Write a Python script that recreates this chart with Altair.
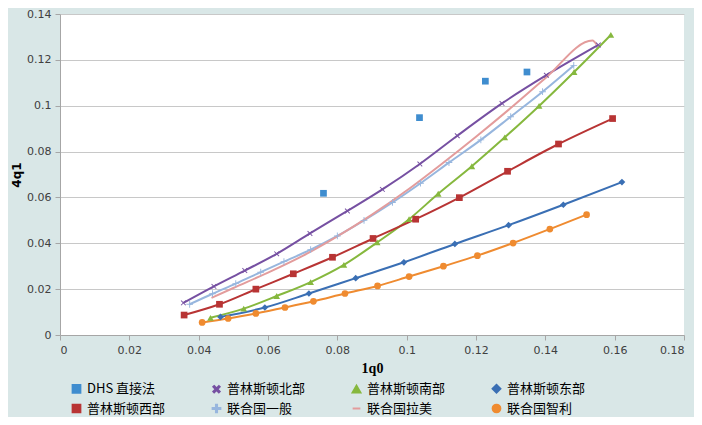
import altair as alt
import pandas as pd

# 系列名称（图例顺序）
series_names = ["DHS 直接法", "普林斯顿北部", "普林斯顿南部", "普林斯顿东部",
                "普林斯顿西部", "联合国一般", "联合国拉美", "联合国智利"]
series_colors = ["#3f8dcf", "#7650a2", "#86b83e", "#3a6fb4",
                 "#b83434", "#97b6de", "#e39c9c", "#ef8b30"]

# DHS 直接法 (只有点)
dhs_x = [0.0760, 0.1037, 0.1227, 0.1347]
dhs_y = [0.0618, 0.0948, 0.1107, 0.1147]

# 普林斯顿北部
north_x = [0.0356, 0.0444, 0.0533, 0.0625, 0.0721, 0.0829, 0.0930, 0.1038, 0.1146, 0.1275, 0.1403, 0.1553]
north_y = [0.0140, 0.0212, 0.0281, 0.0354, 0.0443, 0.0541, 0.0635, 0.0746, 0.0869, 0.1010, 0.1133, 0.1265]

# 普林斯顿南部
south_x = [0.0434, 0.0530, 0.0625, 0.0723, 0.0819, 0.0915, 0.1007, 0.1091, 0.1188, 0.1283, 0.1382, 0.1483, 0.1589]
south_y = [0.0075, 0.0115, 0.0170, 0.0231, 0.0306, 0.0404, 0.0505, 0.0616, 0.0736, 0.0862, 0.0999, 0.1147, 0.1309]

# 普林斯顿东部
east_x = [0.0463, 0.0591, 0.0718, 0.0853, 0.0992, 0.1139, 0.1294, 0.1452, 0.1621]
east_y = [0.0079, 0.0120, 0.0181, 0.0248, 0.0317, 0.0397, 0.0479, 0.0568, 0.0667]

# 普林斯顿西部
west_x = [0.0358, 0.0460, 0.0565, 0.0673, 0.0786, 0.0903, 0.1026, 0.1152, 0.1291, 0.1438, 0.1594]
west_y = [0.0087, 0.0134, 0.0200, 0.0267, 0.0339, 0.0421, 0.0505, 0.0599, 0.0714, 0.0833, 0.0944]

# 联合国一般
un_x = [0.0374, 0.0440, 0.0507, 0.0579, 0.0646, 0.0723, 0.0800, 0.0877, 0.0959, 0.1040, 0.1122, 0.1214, 0.1300, 0.1392, 0.1482]
un_y = [0.0134, 0.0180, 0.0224, 0.0274, 0.0320, 0.0372, 0.0432, 0.0500, 0.0578, 0.0662, 0.0752, 0.0851, 0.0952, 0.1061, 0.1176]

# 联合国拉美 (只有线)
latam_x = [0.0437, 0.0500, 0.0600, 0.0700, 0.0800, 0.0900, 0.1000, 0.1100, 0.1200, 0.1300, 0.1400, 0.1536, 0.1548]
latam_y = [0.0162, 0.0205, 0.0272, 0.0345, 0.0430, 0.0525, 0.0630, 0.0745, 0.0865, 0.0990, 0.1120, 0.1284, 0.1266]

# 联合国智利
chile_x = [0.0410, 0.0485, 0.0565, 0.0649, 0.0731, 0.0822, 0.0916, 0.1007, 0.1106, 0.1204, 0.1307, 0.1413, 0.1519]
chile_y = [0.0055, 0.0072, 0.0094, 0.0120, 0.0147, 0.0181, 0.0214, 0.0255, 0.0300, 0.0346, 0.0401, 0.0462, 0.0525]

all_x = [dhs_x, north_x, south_x, east_x, west_x, un_x, latam_x, chile_x]
all_y = [dhs_y, north_y, south_y, east_y, west_y, un_y, latam_y, chile_y]

rows = []
for name, xs, ys in zip(series_names, all_x, all_y):
    for i, (x, y) in enumerate(zip(xs, ys)):
        rows.append({"series": name, "q0": x, "q1": y, "order": i})
df = pd.DataFrame(rows)


def thin_cross(rotate=False, w=0.14):
    # 细十字 / 细叉号，坐标在 -1..1
    pts = [(-1, -w), (-w, -w), (-w, -1), (w, -1), (w, -w), (1, -w),
           (1, w), (w, w), (w, 1), (-w, 1), (-w, w), (-1, w)]
    if rotate:
        pts = [((x - y) * 0.7071, (x + y) * 0.7071) for x, y in pts]
    return "M" + "L".join(f"{x:.3f},{y:.3f}" for x, y in pts) + "Z"


shapes = ["square", thin_cross(True), "triangle-up", "diamond",
          "square", thin_cross(False), "stroke", "circle"]

color_enc = alt.Color("series:N", sort=series_names,
                      scale=alt.Scale(domain=series_names, range=series_colors),
                      legend=alt.Legend(title=None, orient="none", legendX=10, legendY=368,
                                        direction="horizontal", columns=4,
                                        labelFont="Noto Sans CJK SC", labelFontSize=13,
                                        labelColor="#000000", labelLimit=200,
                                        symbolSize=60, symbolStrokeWidth=2,
                                        columnPadding=42, rowPadding=3))

x_enc = alt.X("q0:Q", title="1q0",
              scale=alt.Scale(domain=[0, 0.18], nice=False),
              axis=alt.Axis(values=[0, 0.02, 0.04, 0.06, 0.08, 0.1, 0.12, 0.14, 0.16, 0.18],
                            format="~g", grid=False, titleFont="Liberation Serif",
                            titleFontSize=14, titlePadding=6))
y_enc = alt.Y("q1:Q", title="4q1",
              scale=alt.Scale(domain=[0, 0.14], nice=False),
              axis=alt.Axis(values=[0, 0.02, 0.04, 0.06, 0.08, 0.1, 0.12, 0.14],
                            format="~g", grid=True, titleFont="DejaVu Sans",
                            titleFontSize=12, titlePadding=3))

base = alt.Chart(df)

lines = base.transform_filter(alt.datum.series != "DHS 直接法").mark_line(
    strokeWidth=2, interpolate="monotone"
).encode(x=x_enc, y=y_enc, color=color_enc, detail="series:N", order="order:Q")

points = base.transform_filter(alt.datum.series != "联合国拉美").mark_point(
    filled=True, size=45, opacity=1
).encode(
    x=x_enc, y=y_enc, color=color_enc,
    shape=alt.Shape("series:N", sort=series_names,
                    scale=alt.Scale(domain=series_names, range=shapes))
)

chart = alt.layer(lines, points).properties(
    width=624, height=321,
    autosize=alt.AutoSizeParams(type="none"),
    padding={"left": 52, "top": 6, "right": 10, "bottom": 82},
    background="#d9e7e7"
).configure_view(
    fill="#ffffff", stroke=None
).configure_axis(
    labelFont="DejaVu Sans", labelFontSize=11, labelColor="#404040",
    titleColor="#000000", titleFontWeight="bold",
    domainColor="#a6a6a6", tickColor="#a6a6a6", tickSize=5,
    gridColor="#c8c8c8", labelPadding=4
)

chart.save("out.html", embed_options={"renderer": "svg", "actions": False})
